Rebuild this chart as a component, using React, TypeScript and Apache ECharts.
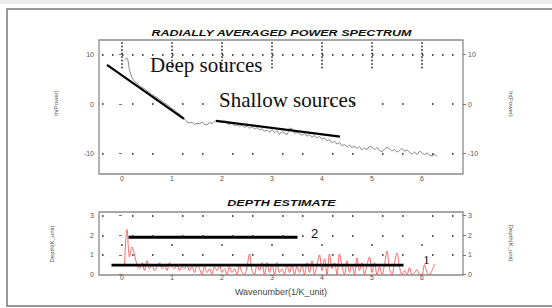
import React, { useEffect, useRef } from "react";
import * as echarts from "echarts";

// ---- data ----
const WAVE_START = 0.05;
const WAVE_STEP = 0.05;

// radially averaged power spectrum ln(Power)
const powerValues = [
  8.9, 9.3, 6.8, 5.4, 4.6, 4.2, 3.7, 3.3, 3.1, 2.6,
  2.4, 1.9, 1.6, 1.3, 0.9, 0.6, 0.2, -0.1, -0.5, -0.9,
  -1.2, -1.7, -2.0, -2.5, -3.0, -3.6, -3.8, -3.7, -4.1, -3.9,
  -4.0, -3.7, -4.1, -4.2, -3.8, -3.9, -3.5, -3.3, -3.5,
  -3.6, -3.4, -3.9, -4.1, -3.9, -4.4, -4.2, -4.5, -4.3, -4.7,
  -4.5, -4.9, -4.6, -5.0, -4.8, -5.2, -5.0, -5.5, -5.3, -5.7,
  -5.2, -5.8, -5.4, -6.1, -5.6, -5.9, -6.2, -4.9, -5.0, -5.9,
  -5.7, -6.0, -6.3, -6.0, -6.5, -6.2, -6.7, -6.4, -6.8, -6.6,
  -7.1, -6.9, -7.4, -7.2, -7.8, -7.5, -8.1, -7.8, -8.4, -8.2,
  -8.7, -8.3, -8.8, -8.5, -9.0, -8.6, -9.3, -8.9, -9.2, -8.6,
  -8.7, -9.2, -8.8, -9.4, -9.6, -9.1, -8.8, -9.0, -9.5, -9.2,
  -9.7, -9.4, -9.0, -9.5, -9.3, -9.8, -10.1, -9.7, -10.2, -9.6,
  -9.8, -10.2, -9.9, -10.3, -10.5, -10.2, -10.6,
];

// depth estimate (K_unit)
const depthValues = [
  0.5, 2.3, 0.9, 1.4, 1.0, 0.5, 0.3, 0.6, 0.2, 0.7,
  0.3, 0.5, 0.2, 0.4, 0.6, 0.3, 0.5, 0.2, 0.6, 0.4,
  0.3, 0.5, 0.2, 0.4, 0.3, 0.5, 0.2, 0.4, 0.1, 0.5,
  0.3, 0.0, 0.4, 0.1, 0.3, 0.0, 0.4, 0.2, 0.5, 0.1,
  0.3, 0.0, 0.4, 0.1, 0.3, 0.0, 0.5, 0.1, 0.0, 0.4,
  1.05, 0.2, 0.0, 0.5, 0.2, 0.6, 0.0, 0.6, 0.1, 0.5,
  0.0, 0.6, 0.1, 0.3, 0.0, 0.5, 0.1, 0.5, 0.0, 0.4,
  0.1, 0.5, 0.0, 0.6, 0.1, 0.7, 0.0, 0.5, 1.0, 0.2,
  0.8, 0.0, 1.05, 0.3, 0.6, 0.0, 1.05, 0.4, 0.0, 0.7,
  0.1, 0.5, 0.0, 0.85, 0.2, 0.6, 0.0, 0.5, 0.9, 0.1,
  0.6, 0.0, 0.4, 0.0, 0.5, 1.2, 0.3, 0.0, 0.6, 1.1,
  0.4, 0.0, 0.2, 0.0, 0.35, 0.0, 0.1, 0.25, 0.0, 0.0,
  0.5, 0.1, 0.0, 0.2, 0.55,
];

// fitted slopes
const deepFitX = [-0.3, 1.24];
const deepFitY = [7.9, -3.0];
const shallowFitX = [1.88, 4.36];
const shallowFitY = [-3.4, -6.6];
const depth2X = [0.13, 3.51];
const depth2Y = [1.9, 1.9];
const depth1X = [-0.21, 5.63];
const depth1Y = [0.48, 0.48];

const xTicks = [0, 1, 2, 3, 4, 5, 6];
const powerTicks = [-10, 0, 10];
const depthTicks = [0, 1, 2, 3];

const X_MIN = -0.46;
const X_MAX = 6.82;
const P_MIN = -14.14;
const P_MAX = 12.93;
const D_MIN = -0.026;
const D_MAX = 3.19;

const pairs = (xs: number[], ys: number[]) => xs.map((x, i) => [x, ys[i]]);
const sampled = (vals: number[]) =>
  vals.map((v, i) => [+(WAVE_START + i * WAVE_STEP).toFixed(2), v]);

const SANS = "Liberation Sans";

const dotRow = (y: number, dash: number[], x0: number, x1: number) => [
  {
    coord: [x0, y],
    lineStyle: { type: dash, color: "#222", width: 1.6, cap: "butt" },
  },
  { coord: [x1, y] },
];
const dotCol = (x: number, y0: number, y1: number) => [
  {
    coord: [x, y0],
    lineStyle: { type: [1.5, 2], color: "#222", width: 1.6, cap: "butt" },
  },
  { coord: [x, y1] },
];

const SPARSE = [1.6, 28.4, 1.6, 18.4];
const DENSE = [1.6, 8.4];

export default function App() {
  const ref = useRef<HTMLDivElement>(null);
  useEffect(() => {
    if (!ref.current) return;
    const chart = echarts.init(ref.current, null, { renderer: "svg" });

    const axisLabelBase = { fontSize: 7, color: "#555", fontFamily: SANS };
    const yAxisCommon = (
      grid: number,
      min: number,
      max: number,
      ticks: number[],
      pos: "left" | "right"
    ) => ({
      type: "value",
      gridIndex: grid,
      position: pos,
      min,
      max,
      axisLine: { show: false },
      splitLine: { show: false },
      axisTick: {
        show: true,
        length: 3,
        customValues: ticks,
        lineStyle: { color: "#777", width: 1 },
      },
      axisLabel: { ...axisLabelBase, margin: 5, customValues: ticks },
    });
    const xAxisCommon = (grid: number, margin: number) => ({
      type: "value",
      gridIndex: grid,
      min: X_MIN,
      max: X_MAX,
      axisLine: { show: false },
      splitLine: { show: false },
      axisTick: { show: false, customValues: xTicks },
      axisLabel: { ...axisLabelBase, margin, customValues: xTicks },
    });

    const option: any = {
      animation: false,
      backgroundColor: "#fff",
      grid: [
        {
          left: 99, top: 40, width: 364, height: 134, show: true,
          borderColor: "#8a8a8a", borderWidth: 1.3, backgroundColor: "transparent",
        },
        {
          left: 99, top: 212, width: 364, height: 63, show: true,
          borderColor: "#8a8a8a", borderWidth: 1.3, backgroundColor: "transparent",
        },
      ],
      xAxis: [xAxisCommon(0, 0.5), xAxisCommon(1, -1.5)],
      yAxis: [
        yAxisCommon(0, P_MIN, P_MAX, powerTicks, "left"),
        yAxisCommon(0, P_MIN, P_MAX, powerTicks, "right"),
        yAxisCommon(1, D_MIN, D_MAX, depthTicks, "left"),
        yAxisCommon(1, D_MIN, D_MAX, depthTicks, "right"),
      ],
      series: [
        {
          name: "ln(Power)",
          type: "line",
          xAxisIndex: 0,
          yAxisIndex: 0,
          data: sampled(powerValues),
          showSymbol: false,
          smooth: 0.3,
          lineStyle: { color: "#666", width: 0.8 },
          z: 3,
          markLine: {
            silent: true,
            symbol: ["none", "none"],
            label: { show: false },
            data: [
              dotRow(10, DENSE, -0.4, 6.72),
              dotRow(0, SPARSE, -0.4, 6.72),
              dotRow(-10, SPARSE, -0.4, 6.72),
              ...xTicks.map((x) => dotCol(x, 12.5, 6.9)),
            ],
          },
        },
        {
          name: "Deep sources fit",
          type: "line",
          xAxisIndex: 0,
          yAxisIndex: 0,
          data: pairs(deepFitX, deepFitY),
          showSymbol: false,
          lineStyle: { color: "#000", width: 2.2 },
          z: 4,
        },
        {
          name: "Shallow sources fit",
          type: "line",
          xAxisIndex: 0,
          yAxisIndex: 0,
          data: pairs(shallowFitX, shallowFitY),
          showSymbol: false,
          lineStyle: { color: "#000", width: 2.2 },
          z: 4,
        },
        {
          name: "Depth",
          type: "line",
          xAxisIndex: 1,
          yAxisIndex: 2,
          data: sampled(depthValues),
          showSymbol: false,
          smooth: 0.35,
          lineStyle: { color: "#ff3b3b", width: 0.9, opacity: 0.85 },
          z: 3,
          markLine: {
            silent: true,
            symbol: ["none", "none"],
            label: { show: false },
            data: [
              dotRow(3, SPARSE, -0.4, 6.72),
              dotRow(2, SPARSE, -0.4, 6.72),
              dotRow(1.5, [1.6, 48.4], -0.016, 6.5),
              dotRow(1, SPARSE, -0.4, 6.72),
            ],
          },
        },
        {
          name: "Depth 2",
          type: "line",
          xAxisIndex: 1,
          yAxisIndex: 2,
          data: pairs(depth2X, depth2Y),
          showSymbol: false,
          lineStyle: { color: "#000", width: 2.8 },
          z: 4,
        },
        {
          name: "Depth 1",
          type: "line",
          xAxisIndex: 1,
          yAxisIndex: 2,
          data: pairs(depth1X, depth1Y),
          showSymbol: false,
          lineStyle: { color: "#000", width: 2.8 },
          z: 4,
        },
      ],
      graphic: [
        { type: "rect", shape: { x: 0, y: 0, width: 552, height: 4 }, style: { fill: "#ececec" }, silent: true },
        { type: "rect", shape: { x: 7, y: 9, width: 600, height: 297 }, style: { fill: "none", stroke: "#777", lineWidth: 1.5 }, silent: true },
        {
          type: "text", x: 281.5, y: 33, scaleX: 1.35,
          style: { text: "RADIALLY AVERAGED POWER SPECTRUM", font: "italic bold 9.3px 'Liberation Sans'", fill: "#111", align: "center", verticalAlign: "middle" },
        },
        {
          type: "text", x: 281.5, y: 203, scaleX: 1.35,
          style: { text: "DEPTH ESTIMATE", font: "italic bold 9.3px 'Liberation Sans'", fill: "#111", align: "center", verticalAlign: "middle" },
        },
        {
          type: "text", x: 281, y: 292,
          style: { text: "Wavenumber(1/K_unit)", font: "9px 'Liberation Sans'", fill: "#444", align: "center", verticalAlign: "middle" },
        },
        {
          type: "text", x: 56, y: 103, rotation: Math.PI / 2,
          style: { text: "ln(Power)", font: "6px 'Liberation Sans'", fill: "#555", align: "center", verticalAlign: "middle" },
        },
        {
          type: "text", x: 511, y: 104, rotation: -Math.PI / 2,
          style: { text: "ln(Power)", font: "6px 'Liberation Sans'", fill: "#555", align: "center", verticalAlign: "middle" },
        },
        {
          type: "text", x: 52, y: 244, rotation: Math.PI / 2,
          style: { text: "Depth(K_unit)", font: "6px 'Liberation Sans'", fill: "#555", align: "center", verticalAlign: "middle" },
        },
        {
          type: "text", x: 511, y: 243, rotation: -Math.PI / 2,
          style: { text: "Depth(K_unit)", font: "6px 'Liberation Sans'", fill: "#555", align: "center", verticalAlign: "middle" },
        },
        {
          type: "text", x: 150, y: 65, z: 10,
          style: { text: "Deep sources", font: "21px 'Liberation Serif', serif", fill: "#111", align: "left", verticalAlign: "middle" },
        },
        {
          type: "text", x: 219, y: 100, z: 10,
          style: { text: "Shallow sources", font: "21px 'Liberation Serif', serif", fill: "#111", align: "left", verticalAlign: "middle" },
        },
        {
          type: "text", x: 311, y: 233, z: 10,
          style: { text: "2", font: "13px 'Liberation Sans'", fill: "#111", align: "left", verticalAlign: "middle" },
        },
        {
          type: "text", x: 423, y: 259, z: 10,
          style: { text: "1", font: "13.5px 'Liberation Serif', serif", fill: "#111", align: "left", verticalAlign: "middle" },
        },
      ],
    };
    chart.setOption(option);
    return () => chart.dispose();
  }, []);

  return (
    <div
      ref={ref}
      style={{ position: "fixed", left: 0, top: 0, width: 552, height: 308, background: "#fff" }}
    />
  );
}
